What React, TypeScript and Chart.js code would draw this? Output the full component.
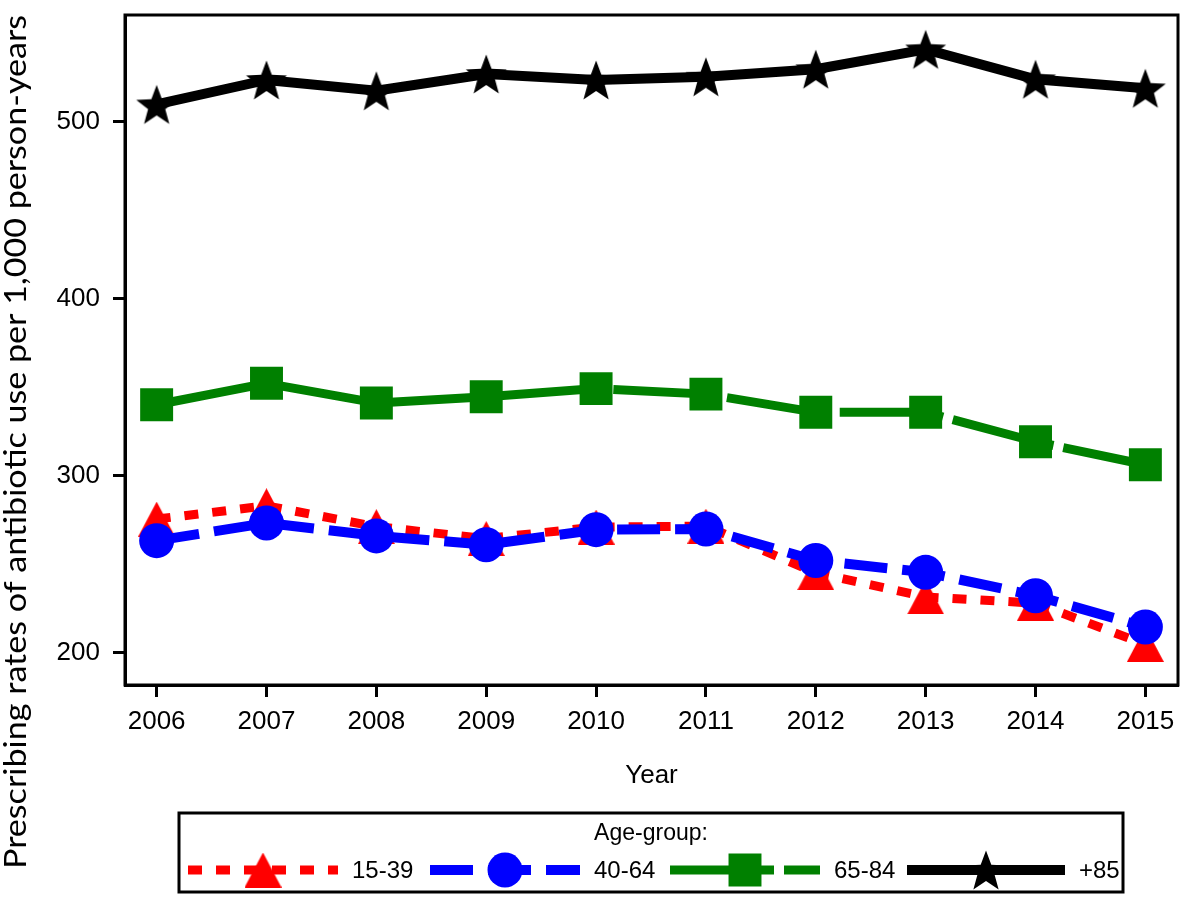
import React, { useEffect, useRef } from 'react';
import { Chart, registerables } from 'chart.js';
import { drawPoint } from 'chart.js/helpers';

Chart.register(...registerables);

// ---------- data ----------
const years = [2006, 2007, 2008, 2009, 2010, 2011, 2012, 2013, 2014, 2015];
const ageGroups = ['15-39', '40-64', '65-84', '+85'];
const rate15to39 = [275.5, 283.0, 271.2, 264.5, 271.0, 271.5, 245.2, 231.5, 228.0, 204.7];
const rate40to64 = [263.3, 273.3, 266.0, 261.0, 269.5, 269.9, 252.1, 245.4, 232.2, 214.5];
const rate65to84 = [340.1, 352.2, 341.1, 344.6, 349.2, 346.1, 335.8, 335.8, 319.2, 306.2];
const rate85plus = [509.8, 523.6, 517.5, 527.0, 523.6, 525.4, 529.7, 540.9, 524.0, 518.9];
const yTickValues = [200, 300, 400, 500];
const yAxisTitle = 'Prescribing rates of antibiotic use per 1,000 person-years';
const xAxisTitle = 'Year';
const legendTitle = 'Age-group:';

const RED = '#ff0000';
const BLUE = '#0000ff';
const GREEN = '#008000';
const BLACK = '#000000';
const SANS = "'Liberation Sans', Arial, sans-serif";

function makeTriangle(w: number, h: number, color: string) {
  const c = document.createElement('canvas');
  c.width = w;
  c.height = h;
  const g = c.getContext('2d')!;
  g.fillStyle = color;
  g.beginPath();
  g.moveTo(w / 2, 0);
  g.lineTo(w, h);
  g.lineTo(0, h);
  g.closePath();
  g.fill();
  return c;
}

function makeStar(size: number, color: string) {
  const c = document.createElement('canvas');
  c.width = size;
  c.height = size;
  const g = c.getContext('2d')!;
  const R = size / 2 - 0.5;
  const r = R * 0.42;
  const cx = size / 2;
  const cy = size / 2 + 0.095 * R;
  g.fillStyle = color;
  g.beginPath();
  for (let i = 0; i < 10; i++) {
    const rad = (Math.PI / 5) * i;
    const rr = i % 2 === 0 ? R : r;
    const px = cx + Math.sin(rad) * rr;
    const py = cy - Math.cos(rad) * rr;
    if (i === 0) g.moveTo(px, py);
    else g.lineTo(px, py);
  }
  g.closePath();
  g.fill();
  return c;
}

const toPoints = (vals: number[]) => years.map((yr, i) => ({ x: yr, y: vals[i] }));

const zeroPad = (s: any) => {
  s.paddingTop = 0;
  s.paddingBottom = 0;
  s.paddingLeft = 0;
  s.paddingRight = 0;
};

const framePlugin = {
  id: 'frame',
  beforeDatasetsDraw(chart: any) {
    const { ctx, chartArea: a } = chart;
    ctx.save();
    ctx.strokeStyle = BLACK;
    ctx.lineWidth = 3;
    ctx.strokeRect(a.left, a.top, a.right - a.left, a.bottom - a.top);
    ctx.restore();
  },
};

const yTitlePlugin = {
  id: 'yTitle',
  afterDraw(chart: any) {
    const { ctx } = chart;
    ctx.save();
    ctx.font = "31px Lato, 'Noto Sans', sans-serif";
    const w = ctx.measureText(yAxisTitle).width;
    const target = 854;
    ctx.translate(26, 442);
    ctx.rotate(-Math.PI / 2);
    ctx.scale(target / w, 1);
    ctx.fillStyle = BLACK;
    ctx.textAlign = 'center';
    ctx.textBaseline = 'alphabetic';
    ctx.fillText(yAxisTitle, 0, 0);
    ctx.restore();
  },
};

const legendPlugin = {
  id: 'boxLegend',
  afterDraw(chart: any) {
    const { ctx } = chart;
    const box = { left: 179, top: 813, right: 1123, bottom: 892 };
    ctx.save();
    ctx.strokeStyle = BLACK;
    ctx.lineWidth = 3;
    ctx.strokeRect(box.left, box.top, box.right - box.left, box.bottom - box.top);
    ctx.fillStyle = BLACK;
    ctx.font = `23px ${SANS}`;
    ctx.textAlign = 'center';
    ctx.textBaseline = 'middle';
    ctx.fillText(legendTitle, (box.left + box.right) / 2, 834);

    const rowY = 870;
    const starts = [188, 430, 670, 907];
    const lens = [150, 150, 150, 158];
    chart.data.datasets.forEach((ds: any, i: number) => {
      const x0 = starts[i];
      const x1 = x0 + lens[i];
      ctx.save();
      ctx.strokeStyle = ds.borderColor;
      ctx.lineWidth = ds.borderWidth;
      ctx.lineCap = 'butt';
      ctx.setLineDash(ds.borderDash || []);
      ctx.lineDashOffset = 0;
      ctx.beginPath();
      ctx.moveTo(x0, rowY);
      ctx.lineTo(x1, rowY);
      ctx.stroke();
      ctx.restore();
      ctx.save();
      ctx.fillStyle = ds.pointBackgroundColor;
      drawPoint(ctx, { pointStyle: ds.pointStyle, radius: ds.pointRadius, rotation: 0, borderWidth: 0 } as any, (x0 + x1) / 2, rowY);
      ctx.restore();
      ctx.save();
      ctx.fillStyle = BLACK;
      ctx.font = `24px ${SANS}`;
      ctx.textAlign = 'left';
      ctx.textBaseline = 'middle';
      ctx.fillText(ds.label, x1 + 14, rowY + 1);
      ctx.restore();
    });
    ctx.restore();
  },
};

export default function App() {
  const canvasRef = useRef<HTMLCanvasElement>(null);

  useEffect(() => {
    document.body.style.margin = '0';
    const tri = makeTriangle(37, 35, RED);
    const star = makeStar(44, BLACK);
    const tickFont = { family: SANS, size: 26 };

    const chart = new Chart(canvasRef.current!, {
      type: 'line',
      data: {
        datasets: [
          {
            label: ageGroups[0],
            data: toPoints(rate15to39),
            borderColor: RED,
            backgroundColor: RED,
            pointBackgroundColor: RED,
            borderWidth: 9,
            borderDash: [14, 14],
            pointStyle: tri,
            pointRadius: 18,
            pointBorderWidth: 0,
            tension: 0,
            order: 2,
          },
          {
            label: ageGroups[1],
            data: toPoints(rate40to64),
            borderColor: BLUE,
            backgroundColor: BLUE,
            pointBackgroundColor: BLUE,
            borderWidth: 10,
            borderDash: [43, 15],
            pointStyle: 'circle',
            pointRadius: 17.5,
            pointBorderWidth: 0,
            tension: 0,
            order: 1,
          },
          {
            label: ageGroups[2],
            data: toPoints(rate65to84),
            borderColor: GREEN,
            backgroundColor: GREEN,
            pointBackgroundColor: GREEN,
            borderWidth: 9,
            borderDash: [104, 10],
            borderDashOffset: -5,
            pointStyle: 'rect',
            pointRadius: 23.3,
            pointBorderWidth: 0,
            tension: 0,
            order: 3,
          },
          {
            label: ageGroups[3],
            data: toPoints(rate85plus),
            borderColor: BLACK,
            backgroundColor: BLACK,
            pointBackgroundColor: BLACK,
            borderWidth: 10,
            pointStyle: star,
            pointRadius: 22,
            pointBorderWidth: 0,
            tension: 0,
            order: 4,
          },
        ] as any,
      },
      options: {
        responsive: false,
        animation: false,
        events: [],
        layout: { autoPadding: false, padding: { left: 0, top: 15, right: 4, bottom: 102 } },
        plugins: {
          legend: { display: false },
          tooltip: { enabled: false },
        },
        scales: {
          x: {
            type: 'linear',
            min: 2005.712,
            max: 2015.297,
            afterBuildTicks: (s: any) => {
              s.ticks = years.map((v) => ({ value: v }));
            },
            afterFit: (s: any) => {
              s.height = 110;
              zeroPad(s);
            },
            ticks: {
              callback: (v: any) => String(v),
              font: tickFont,
              color: BLACK,
              padding: 9,
              maxRotation: 0,
              autoSkip: false,
            },
            grid: {
              display: true,
              drawOnChartArea: false,
              drawTicks: true,
              tickLength: 12,
              tickWidth: 3,
              tickColor: BLACK,
            },
            border: { display: true, color: BLACK, width: 3 },
            title: {
              display: true,
              text: xAxisTitle,
              font: tickFont,
              color: BLACK,
              padding: { top: 0, bottom: 4 },
            },
          },
          y: {
            type: 'linear',
            min: 181.75,
            max: 560.3,
            afterBuildTicks: (s: any) => {
              s.ticks = yTickValues.map((v) => ({ value: v }));
            },
            afterFit: (s: any) => {
              s.width = 125;
              zeroPad(s);
            },
            ticks: {
              callback: (v: any) => String(v),
              font: tickFont,
              color: BLACK,
              padding: 13,
              autoSkip: false,
            },
            grid: {
              display: true,
              drawOnChartArea: false,
              drawTicks: true,
              tickLength: 12,
              tickWidth: 3,
              tickColor: BLACK,
            },
            border: { display: true, color: BLACK, width: 3 },
            title: { display: false },
          },
        },
      } as any,
      plugins: [framePlugin, yTitlePlugin, legendPlugin],
    });

    return () => chart.destroy();
  }, []);

  return (
    <div style={{ width: 1182, height: 897, background: '#fff' }}>
      <canvas ref={canvasRef} width={1182} height={897} style={{ display: 'block' }} />
    </div>
  );
}
